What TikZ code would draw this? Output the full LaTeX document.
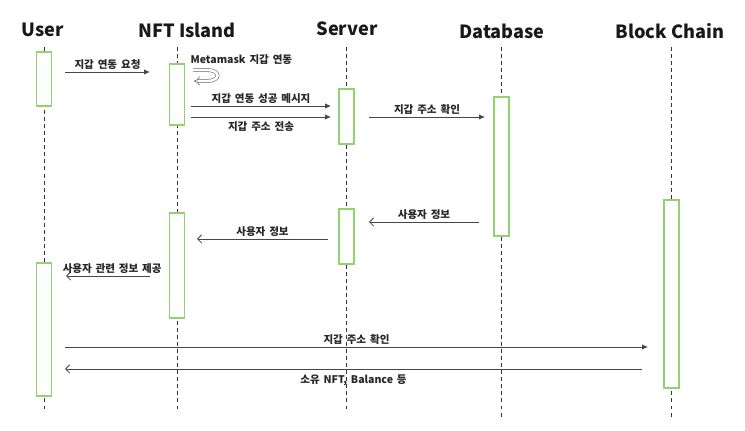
\documentclass[tikz,border=0pt]{standalone}
\usepackage{fontspec}
\setmainfont{Noto Sans CJK KR}
\newfontfamily\lblfont{Noto Sans CJK KR}[WordSpace=1.6]
\usepackage{tikz}
\usetikzlibrary{arrows.meta}
\definecolor{actgreen}{RGB}{146,210,112}
\definecolor{msggray}{RGB}{70,70,70}

\begin{document}
\begin{tikzpicture}[x=0.03cm, y=-0.03cm,
    title/.style={font=\bfseries\fontsize{15.5}{16}\selectfont, text=black!90},
    lifeline/.style={black!80, line width=0.7pt, dash pattern=on 3.4pt off 2.6pt},
    actbox/.style={draw=actgreen, fill=white, line width=1.3pt, minimum width=0.45cm, inner sep=0pt},
    msg/.style={msggray, line width=0.7pt},
    call/.style={msg, -{Latex[length=5pt, width=4.5pt]}},
    reply/.style={msg, -{Straight Barb[length=3.5pt, width=7pt]}},
    lbl/.style={font=\lblfont\bfseries\fontsize{9}{10}\selectfont, text=black!85, inner sep=2pt}]
        \useasboundingbox (0,0) rectangle (745,431);

        %%%%%%%%%%%%%%%%%%%%%%%%%%%%%%
        \node[title] (user) at (43, 30) {User};
        \node[title] (nft) at (187, 30) {NFT Island};
        \node[title] (server) at (347, 29) {Server};
        \node[title] (db) at (502, 31) {Database};
        \node[title] (chain) at (670, 31) {Block Chain};

        \draw[lifeline] (44, 47) -- (44, 412);
        \draw[lifeline] (177, 47) -- (177, 412);
        \draw[lifeline] (346.5, 47) -- (346.5, 412);
        \draw[lifeline] (501.5, 47) -- (501.5, 418);
        \draw[lifeline] (671.5, 47) -- (671.5, 418);

        %%%%%%%%%%%%%%%%%%%%%%%%%%%%%%
        \node[actbox, minimum height=1.62cm] (user1) at (44, 79) {};
        \node[actbox, minimum height=1.83cm] (nft1) at (177, 94.5) {};
        \node[actbox, minimum height=1.65cm] (server1) at (346.5, 116.5) {};
        \node[actbox, minimum height=4.17cm] (db1) at (501.5, 166.5) {};
        \node[actbox, minimum height=1.65cm] (server2) at (346.5, 236.5) {};
        \node[actbox, minimum height=3.15cm] (nft2) at (177, 265.5) {};
        \node[actbox, minimum height=3.99cm] (user2) at (44, 329.5) {};
        \node[actbox, minimum height=5.64cm] (chain1) at (671.5, 294) {};

        %%%%%%%%%%%%%%%%%%%%%%%%%%%%%%
        \draw[call] (65, 72) -- (150, 72) node[lbl, midway, above] {지갑 연동 요청};

        \node[lbl, anchor=west] (metamask) at (188, 60) {Metamask 지갑 연동};
        \draw[black!60, line width=0.5pt, double=white, double distance=2.2pt, -{Implies}]
        (193, 70) -- (207, 70) .. controls (221, 70) and (221, 81) .. (207, 81) -- (194, 81);

        \draw[call] (191, 106) -- (331, 106) node[lbl, midway, above] {지갑 연동 성공 메시지};
        \draw[call] (191, 117) -- (331, 117) node[lbl, midway, below=2pt] {지갑 주소 전송};
        \draw[call] (369, 117) -- (485, 117) node[lbl, midway, above] {지갑 주소 확인};

        \draw[reply] (479, 222) -- (369, 222) node[lbl, midway, above] {사용자 정보};
        \draw[reply] (328, 239) -- (197, 239) node[lbl, midway, above] {사용자 정보};
        \draw[reply] (150, 276) -- (66, 276) node[lbl, pos=0.45, above] {사용자 관련 정보 제공};

        \draw[call] (65, 347) -- (648, 347) node[lbl, midway, above] {지갑 주소 확인};
        \draw[reply] (642, 369) -- (65, 369) node[lbl, midway, below=3pt] {소유 NFT, Balance 등};
    \end{tikzpicture}
\end{document}
